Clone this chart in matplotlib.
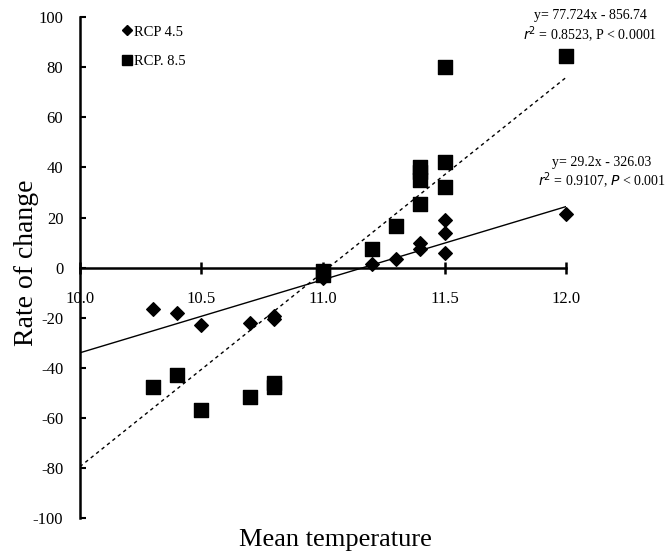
import matplotlib
matplotlib.use("Agg")
import matplotlib.pyplot as plt
import numpy as np
from matplotlib.lines import Line2D

# RCP 4.5 (diamonds)
rcp45_x = [10.3, 10.4, 10.5, 10.7, 10.8, 10.8, 11.0, 11.2, 11.3, 11.4, 11.4, 11.5, 11.5, 11.5, 12.0]
rcp45_y = [-16.5, -18, -23, -22, -19.5, -20.5, -4, 1.5, 3.5, 10, 7.5, 19, 14, 6, 21.5]

# RCP 8.5 (squares)
rcp85_x = [10.3, 10.4, 10.5, 10.7, 10.8, 10.8, 11.0, 11.0, 11.2, 11.3, 11.4, 11.4, 11.4, 11.4, 11.5, 11.5, 11.5, 12.0]
rcp85_y = [-47.5, -43, -57, -51.5, -46, -47.5, -1.5, -3, 7.5, 16.5, 25.5, 35, 38, 40, 80, 42, 32, 84.5]

# Regression fits
fit45 = (29.2, -326.03)
fit85 = (77.724, -856.74)

xticks = [10.0, 10.5, 11.0, 11.5, 12.0]
yticks = [-100, -80, -60, -40, -20, 0, 20, 40, 60, 80, 100]

plt.rcParams['font.family'] = ['Liberation Serif', 'DejaVu Serif']

fig = plt.figure(figsize=(6.66, 5.55), dpi=100)
ax = fig.add_axes([0.120, 0.0667, 0.730, 0.9023])

ax.set_xlim(10.0, 12.0)
ax.set_ylim(-100, 100)

xx = np.array([10.0, 12.0])
ax.plot(xx, fit45[0] * xx + fit45[1], color='black', lw=1.0, zorder=2)
ax.plot(xx, fit85[0] * xx + fit85[1], color='black', lw=1.0, ls=(0, (2.5, 2.5)), zorder=2)

ax.scatter(rcp45_x, rcp45_y, marker='D', s=48, color='black', zorder=3, clip_on=False)
ax.scatter(rcp85_x, rcp85_y, marker='s', s=95, color='black', zorder=3, clip_on=False)

for s in ['top', 'right']:
    ax.spines[s].set_visible(False)
ax.spines['bottom'].set_position(('data', 0))
ax.spines['left'].set_linewidth(1.8)
ax.spines['bottom'].set_linewidth(1.8)

ax.set_xticks(xticks)
ax.set_xticklabels([f"{v:.1f}" for v in xticks])
ax.set_yticks(yticks)
ax.set_yticklabels([str(v) for v in yticks])
ax.tick_params(axis='x', direction='inout', length=9, width=1.8, pad=12, labelsize=12)
ax.tick_params(axis='y', direction='in', length=4, width=1.5, pad=12, labelsize=12)

ax.set_ylabel('Rate of change', fontsize=20)
ax.yaxis.set_label_coords(-0.085, 0.51)
fig.text(0.503, 0.027, 'Mean temperature', ha='center', va='center', fontsize=19)

handles = [Line2D([], [], marker='D', color='black', ls='none', markersize=5.5),
           Line2D([], [], marker='s', color='black', ls='none', markersize=7.5)]
ax.legend(handles, ['RCP 4.5', 'RCP. 8.5'], loc='upper left', bbox_to_anchor=(0.055, 1.01),
          frameon=False, fontsize=10.5, handletextpad=0.0, labelspacing=1.1, handlelength=1.0)

fig.text(0.886, 0.972, 'y= 77.724x - 856.74', ha='center', va='center', fontsize=10)
fig.text(0.886, 0.937, r'$r$$^2$ = 0.8523, P < 0.0001', ha='center', va='center', fontsize=10)
fig.text(0.904, 0.707, 'y= 29.2x - 326.03', ha='center', va='center', fontsize=10)
fig.text(0.904, 0.674, r'$r$$^2$ = 0.9107, $P$ < 0.001', ha='center', va='center', fontsize=10)

fig.savefig('out.png', dpi=100)
